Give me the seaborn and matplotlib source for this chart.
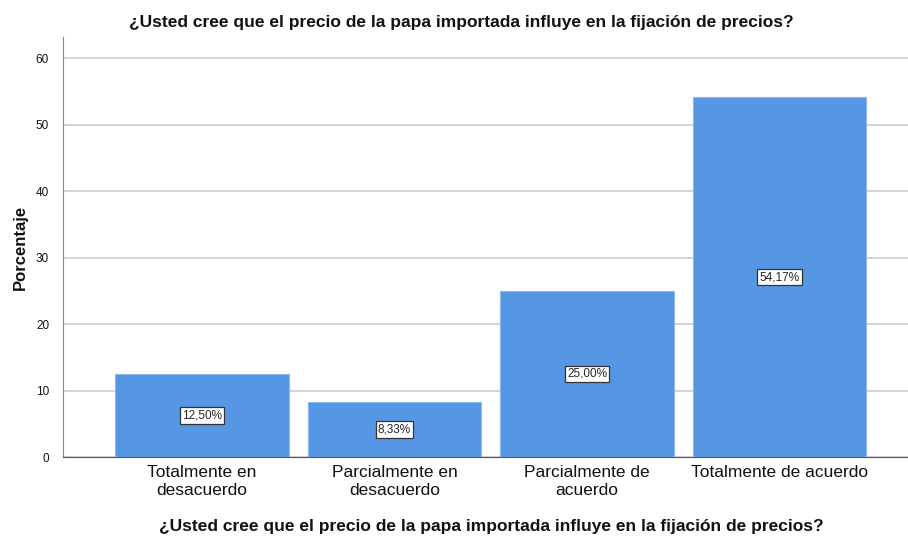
import matplotlib
matplotlib.use("Agg")
import matplotlib.pyplot as plt
import seaborn as sns
import pandas as pd

# Ma'lumotlar
categorias = ["Totalmente en\ndesacuerdo", "Parcialmente en\ndesacuerdo",
              "Parcialmente de\nacuerdo", "Totalmente de acuerdo"]
porcentajes = [12.50, 8.33, 25.00, 54.17]
etiquetas = ["12,50%", "8,33%", "25,00%", "54,17%"]

titulo = "¿Usted cree que el precio de la papa importada influye en la fijación de precios?"

df = pd.DataFrame({"cat": categorias, "pct": porcentajes})

sns.set_style("white")
plt.rcParams["font.family"] = ["Liberation Sans", "DejaVu Sans"]

fig = plt.figure(figsize=(9.08, 5.36), dpi=100)
ax = fig.add_axes([63 / 908, 1 - 457 / 536, (908 - 63) / 908, (457 - 37) / 536])

sns.barplot(data=df, x="cat", y="pct", color="#5596E5", width=0.9,
            edgecolor="#8DB8EE", linewidth=0.8, saturation=1, ax=ax, zorder=3)

for i, (v, t) in enumerate(zip(porcentajes, etiquetas)):
    ax.text(i, v / 2, t, ha="center", va="center", fontsize=8.5, zorder=5,
            bbox=dict(boxstyle="square,pad=0.2", fc="white", ec="#333333", lw=0.9))

ax.set_xlim(-0.722, 3.667)
ax.set_ylim(0, 63.2)
ax.set_yticks([0, 10, 20, 30, 40, 50, 60])
ax.yaxis.grid(True, color="#CCCCCC", lw=1.2, zorder=0)
ax.set_axisbelow(True)
for s in ["top", "right"]:
    ax.spines[s].set_visible(False)
ax.spines["left"].set_color("#888888")
ax.spines["bottom"].set_color("#555555")
ax.tick_params(axis="y", labelsize=8.5, length=0, pad=10, colors="#111111")
ax.tick_params(axis="x", labelsize=12.5, length=0, pad=6, colors="#111111")
for lbl in ax.get_xticklabels():
    lbl.set_linespacing(1.2)

ax.set_ylabel("Porcentaje", fontsize=12, fontweight="bold", labelpad=6, color="#111111")
ax.set_xlabel(titulo, fontsize=12.5, fontweight="bold", color="#111111")
ax.xaxis.set_label_coords((491 - 63) / (908 - 63), -0.147)
fig.text(461 / 908, 1 - 22 / 536, titulo, ha="center", va="center",
         fontsize=12.5, fontweight="bold", color="#111111")

fig.savefig("out.png", dpi=100)
